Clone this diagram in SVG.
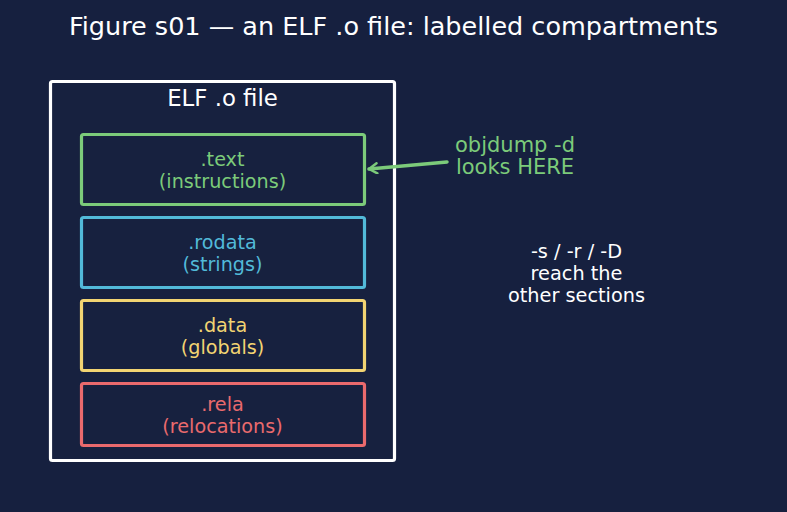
<svg xmlns="http://www.w3.org/2000/svg" width="787" height="512" viewBox="0 0 787 512">
<defs>
<marker id="ah" viewBox="0 0 12 12" refX="10" refY="6" markerWidth="12" markerHeight="12" markerUnits="userSpaceOnUse" orient="auto">
<path d="M2,1 L10,6 L2,11" fill="none" stroke="#7ccb7a" stroke-width="2.5" stroke-linecap="round" stroke-linejoin="round"/>
</marker>
</defs>
<style>
text{font-family:"DejaVu Sans","Liberation Sans",sans-serif;text-anchor:middle}
.sec{fill:#17213f;stroke-width:3.2}
.g{fill:#7ccb7a}.c{fill:#52bad9}.y{fill:#f2d472}.r{fill:#ea6a6d}.w{fill:#ffffff}
.st{font-size:19.2px}
</style>
<rect width="787" height="512" fill="#16203f"/>
<text x="393.5" y="34.5" class="w" font-size="25.5">Figure s01 — an ELF .o file: labelled compartments</text>
<g id="elf">
<rect x="50.5" y="81.5" width="344" height="379" rx="2" fill="#17213f" stroke="#ffffff" stroke-width="3.2"/>
<text x="222.5" y="106" class="w" font-size="22.8">ELF .o file</text>
</g>
<g id="text">
<rect class="sec" x="81.5" y="134.5" width="283" height="70" rx="2" stroke="#7ccb7a"/>
<text class="g st" x="222.5" y="166">.text</text>
<text class="g st" x="222.5" y="188">(instructions)</text>
</g>
<g id="rodata">
<rect class="sec" x="81.5" y="217.5" width="283" height="70" rx="2" stroke="#52bad9"/>
<text class="c st" x="222.5" y="249">.rodata</text>
<text class="c st" x="222.5" y="271">(strings)</text>
</g>
<g id="data">
<rect class="sec" x="81.5" y="300.5" width="283" height="70" rx="2" stroke="#f2d472"/>
<text class="y st" x="222.5" y="332">.data</text>
<text class="y st" x="222.5" y="354">(globals)</text>
</g>
<g id="rela">
<rect class="sec" x="81.5" y="383.5" width="283" height="62" rx="2" stroke="#ea6a6d"/>
<text class="r st" x="222.5" y="411">.rela</text>
<text class="r st" x="222.5" y="433">(relocations)</text>
</g>
<g id="objdump">
<text class="g" x="515" y="152" font-size="21">objdump -d</text>
<text class="g" x="515" y="174" font-size="21">looks HERE</text>
</g>
<g id="others">
<text class="w" x="576.5" y="258" font-size="19.3">-s / -r / -D</text>
<text class="w" x="576.5" y="280" font-size="19.3">reach the</text>
<text class="w" x="576.5" y="302" font-size="19.3">other sections</text>
</g>
<g id="connectors">
<line x1="447" y1="162" x2="369" y2="169" stroke="#7ccb7a" stroke-width="3.5" stroke-linecap="round" marker-end="url(#ah)"/>
</g>
</svg>
